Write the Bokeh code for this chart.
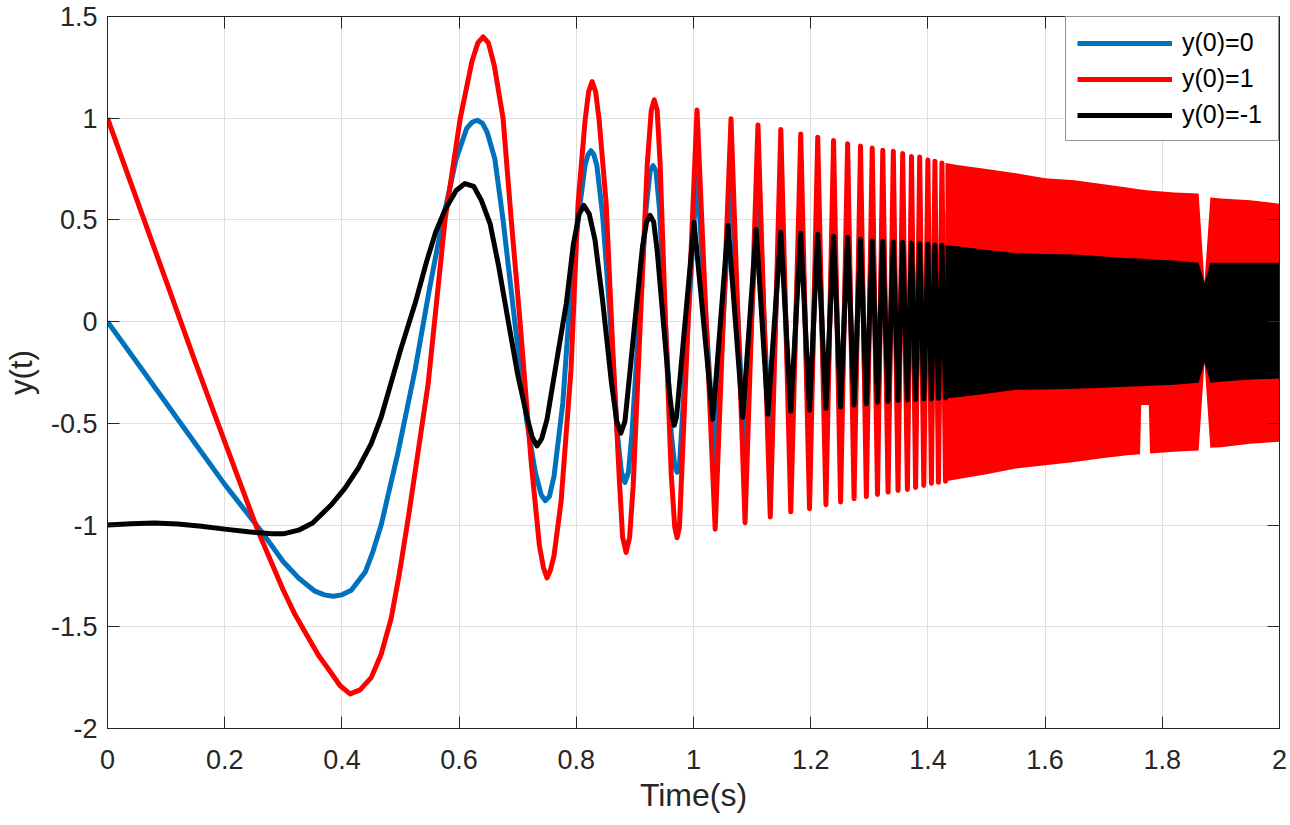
from bokeh.plotting import figure
from bokeh.models import Range1d, FixedTicker, LinearAxis, Legend, LegendItem, CustomJSTickFormatter
from bokeh.embed import file_html
from bokeh.resources import INLINE

# ---------------- data ----------------
x_tick_values = [0, 0.2, 0.4, 0.6, 0.8, 1.0, 1.2, 1.4, 1.6, 1.8, 2.0]
x_tick_labels = ["0", "0.2", "0.4", "0.6", "0.8", "1", "1.2", "1.4", "1.6", "1.8", "2"]
y_tick_values = [-2, -1.5, -1, -0.5, 0, 0.5, 1, 1.5]
y_tick_labels = ["-2", "-1.5", "-1", "-0.5", "0", "0.5", "1", "1.5"]

series_names = ["y(0)=0", "y(0)=1", "y(0)=-1"]

# y(0)=0 (blue), resolvable part
blue_t = [0.000, 0.050, 0.100, 0.150, 0.200, 0.265, 0.300, 0.326, 0.354, 0.370,
          0.385, 0.400, 0.416, 0.440, 0.453, 0.467, 0.496, 0.525, 0.550, 0.570,
          0.595, 0.613, 0.622, 0.631, 0.640, 0.648, 0.661, 0.675, 0.695, 0.715,
          0.730, 0.740, 0.747, 0.754, 0.762, 0.777, 0.789, 0.803, 0.815, 0.820,
          0.825, 0.830, 0.835, 0.845, 0.857, 0.870, 0.877, 0.883, 0.889, 0.895,
          0.907, 0.919, 0.926, 0.931, 0.936, 0.942, 0.952, 0.962, 0.968, 0.972,
          0.976, 1.006, 1.037, 1.064, 1.088, 1.110, 1.131]
blue_y = [0.00, -0.20, -0.40, -0.60, -0.80, -1.04, -1.18, -1.26, -1.325, -1.343,
          -1.35, -1.343, -1.32, -1.23, -1.13, -1.00, -0.64, -0.235, 0.17, 0.47,
          0.80, 0.95, 0.98, 0.99, 0.975, 0.93, 0.80, 0.50, 0.0, -0.48,
          -0.74, -0.85, -0.88, -0.86, -0.76, -0.40, 0.09, 0.50, 0.77, 0.82,
          0.84, 0.82, 0.77, 0.52, 0.05, -0.55, -0.74, -0.79, -0.74, -0.55,
          0.0, 0.55, 0.74, 0.767, 0.74, 0.55, 0.0, -0.55, -0.71, -0.74,
          -0.71, 0.728, -0.71, 0.71, -0.69, 0.69, -0.67]

# y(0)=1 (red), resolvable part
red_t = [0.000, 0.050, 0.100, 0.150, 0.200, 0.257, 0.300, 0.320, 0.340, 0.360,
         0.380, 0.397, 0.414, 0.431, 0.450, 0.467, 0.484, 0.498, 0.513, 0.530,
         0.547, 0.576, 0.602, 0.622, 0.632, 0.641, 0.650, 0.660, 0.675, 0.689,
         0.704, 0.723, 0.737, 0.744, 0.750, 0.756, 0.762, 0.774, 0.791, 0.803,
         0.815, 0.821, 0.827, 0.833, 0.839, 0.851, 0.862, 0.873, 0.879, 0.885,
         0.891, 0.897, 0.909, 0.921, 0.928, 0.933, 0.938, 0.943, 0.952, 0.962,
         0.968, 0.972, 0.976, 1.006, 1.037, 1.064, 1.088, 1.110, 1.131]
red_y = [1.00, 0.60, 0.20, -0.20, -0.59, -1.03, -1.32, -1.44, -1.54, -1.64,
         -1.72, -1.79, -1.83, -1.81, -1.75, -1.635, -1.46, -1.24, -0.97, -0.64,
         -0.31, 0.50, 1.00, 1.28, 1.37, 1.40, 1.37, 1.26, 1.00, 0.50,
         0.00, -0.69, -1.10, -1.21, -1.26, -1.22, -1.15, -0.885, -0.235, 0.58,
         0.99, 1.13, 1.18, 1.13, 0.99, 0.58, -0.12, -0.75, -1.06, -1.135,
         -1.06, -0.81, -0.02, 0.77, 1.04, 1.09, 1.04, 0.78, 0.01, -0.75,
         -1.01, -1.062, -1.01, 1.04, -1.02, 0.997, -0.988, 0.967, -0.96]

# y(0)=-1 (black), resolvable part
black_t = [0.000, 0.040, 0.080, 0.120, 0.160, 0.200, 0.240, 0.280, 0.300, 0.326,
           0.350, 0.382, 0.405, 0.428, 0.450, 0.467, 0.484, 0.500, 0.525, 0.545,
           0.560, 0.576, 0.595, 0.610, 0.625, 0.638, 0.653, 0.667, 0.684, 0.700,
           0.716, 0.725, 0.733, 0.741, 0.750, 0.769, 0.783, 0.795, 0.805, 0.813,
           0.822, 0.832, 0.845, 0.860, 0.869, 0.876, 0.883, 0.888, 0.900, 0.913,
           0.920, 0.926, 0.932, 0.938, 0.950, 0.959, 0.964, 0.967, 0.971, 1.001,
           1.033, 1.059, 1.084, 1.107, 1.127]
black_y = [-1.000, -0.993, -0.990, -0.995, -1.006, -1.020, -1.033, -1.043, -1.043, -1.025,
           -0.990, -0.900, -0.820, -0.720, -0.600, -0.470, -0.300, -0.140, 0.090, 0.300,
           0.440, 0.550, 0.645, 0.679, 0.665, 0.596, 0.480, 0.280, 0.000, -0.260,
           -0.470, -0.570, -0.611, -0.575, -0.480, -0.150, 0.090, 0.380, 0.530, 0.571,
           0.530, 0.400, 0.100, -0.300, -0.490, -0.548, -0.490, -0.350, 0.000, 0.370,
           0.490, 0.522, 0.490, 0.350, -0.050, -0.350, -0.470, -0.509, -0.470, 0.488,
           -0.480, 0.473, -0.470, 0.454, -0.455]

# fast oscillations: extremum times shared by the three curves
late_t = [1.149, 1.166, 1.183, 1.198, 1.212, 1.226, 1.239, 1.251, 1.263, 1.274,
          1.285, 1.295, 1.305, 1.314, 1.323, 1.332, 1.341, 1.349, 1.357, 1.365,
          1.372, 1.379, 1.386, 1.393, 1.400, 1.406, 1.412, 1.418, 1.424, 1.430,
          1.436]
blue_late = [0.665, -0.66, 0.655, -0.65, 0.645, -0.64, 0.635, -0.63, 0.625, -0.62,
             0.615, -0.61, 0.605, -0.60, 0.60, -0.595, 0.59, -0.585, 0.58, -0.575,
             0.57, -0.57, 0.565, -0.56, 0.555, -0.555, 0.55, -0.545, 0.54, -0.54,
             0.535]
red_late = [0.945, -0.935, 0.922, -0.92, 0.907, -0.90, 0.89, -0.886, 0.874, -0.87,
            0.863, -0.86, 0.853, -0.85, 0.842, -0.838, 0.837, -0.83, 0.826, -0.825,
            0.812, -0.815, 0.809, -0.805, 0.795, -0.795, 0.788, -0.79, 0.78, -0.785,
            0.77]
black_late = [0.44, -0.44, 0.435, -0.435, 0.43, -0.426, 0.42, -0.42, 0.415, -0.41,
              0.405, -0.405, 0.398, -0.396, 0.395, -0.392, 0.392, -0.387, 0.39, -0.385,
              0.387, -0.383, 0.385, -0.38, 0.38, -0.38, 0.377, -0.377, 0.375, -0.375,
              0.372]

# unresolved dense region: upper / lower envelopes of each curve
band_t = [1.430, 1.450, 1.500, 1.550, 1.600, 1.650, 1.700, 1.740, 1.762, 1.764,
          1.777, 1.779, 1.820, 1.862, 1.872, 1.882, 1.900, 1.950, 2.000]
blue_upper = [0.535, 0.53, 0.515, 0.50, 0.49, 0.48, 0.47, 0.46, 0.455, 0.455,
              0.45, 0.45, 0.445, 0.44, 0.19, 0.435, 0.43, 0.425, 0.42]
blue_lower = [-0.54, -0.53, -0.515, -0.50, -0.49, -0.48, -0.47, -0.46, -0.455, -0.41,
              -0.41, -0.45, -0.445, -0.44, -0.20, -0.435, -0.43, -0.425, -0.42]
red_upper = [0.78, 0.77, 0.75, 0.73, 0.705, 0.695, 0.675, 0.66, 0.65, 0.65,
             0.645, 0.645, 0.635, 0.63, 0.19, 0.61, 0.605, 0.597, 0.58]
red_lower = [-0.785, -0.775, -0.75, -0.722, -0.706, -0.69, -0.67, -0.657, -0.652, -0.41,
             -0.41, -0.648, -0.64, -0.633, -0.20, -0.62, -0.617, -0.60, -0.59]
black_upper = [0.375, 0.37, 0.352, 0.337, 0.332, 0.33, 0.32, 0.312, 0.31, 0.31,
               0.305, 0.305, 0.30, 0.29, 0.19, 0.29, 0.29, 0.29, 0.29]
black_lower = [-0.377, -0.372, -0.355, -0.335, -0.333, -0.33, -0.325, -0.32, -0.318, -0.318,
               -0.315, -0.315, -0.31, -0.30, -0.20, -0.30, -0.295, -0.285, -0.28]

# ---------------- styling ----------------
FONT = "Liberation Sans"
AX = "#262626"
GRID = "#DFDFDF"
colors = ["#0072BD", "#FF0000", "#000000"]
LW = 5

p = figure(width=1287, height=822,
           x_range=Range1d(0, 2), y_range=Range1d(-2, 1.5),
           output_backend="svg", toolbar_location=None,
           min_border_left=105, min_border_right=8,
           min_border_top=16, min_border_bottom=94)
p.background_fill_color = "white"
p.border_fill_color = "white"
p.outline_line_color = AX
p.outline_line_width = 1

# axes
p.xaxis.ticker = FixedTicker(ticks=x_tick_values)
p.yaxis.ticker = FixedTicker(ticks=y_tick_values)
p.xaxis.major_label_overrides = dict(zip(x_tick_values, x_tick_labels))
p.yaxis.major_label_overrides = dict(zip(y_tick_values, y_tick_labels))
for ax in (p.xaxis, p.yaxis):
    ax.major_tick_in = 12
    ax.major_tick_out = 0
    ax.minor_tick_line_color = None
    ax.axis_line_color = AX
    ax.major_tick_line_color = AX
    ax.major_label_text_font = FONT
    ax.major_label_text_font_size = "27px"
    ax.major_label_text_color = AX
    ax.axis_label_text_font = FONT
    ax.axis_label_text_font_style = "normal"
    ax.axis_label_text_color = AX
p.xaxis.major_label_standoff = 21
p.xaxis.axis_label = "Time(s)"
p.xaxis.axis_label_text_font_size = "32px"
p.xaxis.axis_label_standoff = 5
p.yaxis.major_label_standoff = 10
p.yaxis.axis_label = "y(t)"
p.yaxis.axis_label_text_font_size = "31px"
p.yaxis.axis_label_standoff = 9

# box ticks on top and right
blank = CustomJSTickFormatter(code="return ''")
top_axis = LinearAxis(ticker=FixedTicker(ticks=x_tick_values), formatter=blank,
                      major_tick_in=12, major_tick_out=0, minor_tick_line_color=None,
                      axis_line_color=AX, major_tick_line_color=AX,
                      major_label_standoff=0, major_label_text_font_size="1px")
right_axis = LinearAxis(ticker=FixedTicker(ticks=y_tick_values), formatter=blank,
                        major_tick_in=12, major_tick_out=0, minor_tick_line_color=None,
                        axis_line_color=AX, major_tick_line_color=AX,
                        major_label_standoff=0, major_label_text_font_size="1px")
p.add_layout(top_axis, "above")
p.add_layout(right_axis, "right")

p.xgrid.ticker = FixedTicker(ticks=x_tick_values)
p.ygrid.ticker = FixedTicker(ticks=y_tick_values)
p.grid.grid_line_color = GRID
p.grid.grid_line_width = 1

# curves
series = [
    (blue_t + late_t, blue_y + blue_late, blue_upper, blue_lower),
    (red_t + late_t, red_y + red_late, red_upper, red_lower),
    (black_t + late_t, black_y + black_late, black_upper, black_lower),
]
items = []
for name, color, (t, y, up, lo) in zip(series_names, colors, series):
    r = p.line(t, y, line_color=color, line_width=LW, line_join="round")
    p.varea(x=band_t, y1=lo, y2=up, fill_color=color, fill_alpha=1.0)
    items.append(LegendItem(label=name, renderers=[r]))

legend = Legend(items=items, location="top_right")
legend.margin = 0
legend.padding = 11
legend.spacing = 7
legend.glyph_width = 95
legend.glyph_height = 28
legend.label_height = 28
legend.label_width = 85
legend.label_standoff = 10
legend.label_text_font = FONT
legend.label_text_font_size = "25px"
legend.label_text_color = "#000000"
legend.border_line_color = AX
legend.border_line_width = 1
legend.background_fill_color = "white"
legend.background_fill_alpha = 1.0
p.add_layout(legend)

open("out.html", "w").write(file_html(p, INLINE))
